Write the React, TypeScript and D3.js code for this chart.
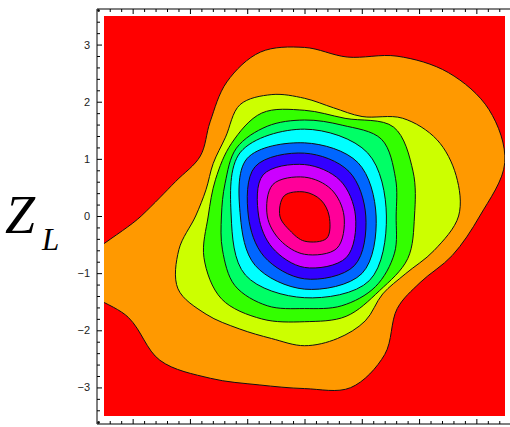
import React, { useRef, useEffect } from "react";
import * as d3 from "d3";

// Hue bands, outermost (lowest) to the core
const bandColors = [
  "#ff0000", "#ff9900", "#ccff00", "#33ff00", "#00ff66", "#00ffff",
  "#0066ff", "#3300ff", "#cc00ff", "#ff0099", "#ff0000",
];

// contour radii, angles evenly spaced from +x, counter-clockwise
const contour1 = [3.06, 3.62, 3.72, 3.55, 3.23, 2.88, 2.95, 2.97, 2.71, 2.33, 2.1, 2.33, 2.85, 4.2, 3.55, 3.57, 3.28, 3.06, 3.02, 3.11, 2.8, 2.29, 2.33, 2.67];
const contour2 = [2.69, 2.74, 2.67, 2.42, 2.01, 1.96, 2.06, 2.2, 2.25, 1.95, 1.84, 1.78, 1.9, 2.27, 2.55, 2.43, 2.28, 2.22, 2.27, 2.22, 2.12, 1.93, 2.03, 2.34];
const contour3 = [1.92, 2.05, 2.2, 1.85, 1.85, 1.95, 1.8, 1.68, 1.68, 1.9, 2.05, 1.95, 1.85, 1.9, 1.85, 1.95];
const contour4 = [1.6, 1.72, 1.9, 1.72, 1.68, 1.7, 1.68, 1.5, 1.45, 1.55, 1.72, 1.7, 1.62, 1.7, 1.75, 1.7];
const contour5 = [1.43, 1.56, 1.52, 1.58, 1.28, 1.46, 1.43, 1.6];
const contour6 = [1.25, 1.32, 1.28, 1.42, 1.12, 1.22, 1.28, 1.42];
const contour7 = [1.07, 1.1, 1.1, 1.22, 0.98, 1.0, 1.1, 1.23];
const contour8 = [0.89, 0.88, 0.9, 1.02, 0.8, 0.79, 0.9, 1.03];
const contour9 = [0.69, 0.66, 0.68, 0.78, 0.65, 0.6, 0.67, 0.8];
const contour10 = [0.43, 0.4, 0.42, 0.5, 0.43, 0.36, 0.44, 0.55];
const contours = [contour1, contour2, contour3, contour4, contour5, contour6, contour7, contour8, contour9, contour10];
const center = [0, 0];

const majorTicks = [-3, -2, -1, 0, 1, 2, 3];
const minorTicks = d3.range(-18, 19).map((i) => i / 5).filter((v) => !Number.isInteger(v));

export default function App() {
  const svgRef = useRef<SVGSVGElement>(null);

  useEffect(() => {
    if (!svgRef.current) return;
    const width = 510;
    const height = 427;
    const plot = { left: 104, right: 505, top: 16, bottom: 416 };
    const frame = { left: 97, top: 9, bottom: 424 };

    d3.select(svgRef.current).selectAll("*").remove();
    const svg = d3.select(svgRef.current).attr("width", width).attr("height", height);

    const x = d3.scaleLinear().domain([-3.5, 3.5]).range([plot.left, plot.right]);
    const y = d3.scaleLinear().domain([-3.5, 3.5]).range([plot.bottom, plot.top]);

    svg.append("rect").attr("width", width).attr("height", height).attr("fill", "#fff");

    svg.append("clipPath").attr("id", "plot-clip")
      .append("rect")
      .attr("x", plot.left).attr("y", plot.top)
      .attr("width", plot.right - plot.left).attr("height", plot.bottom - plot.top);

    const chart = svg.append("g").attr("clip-path", "url(#plot-clip)");
    chart.append("rect")
      .attr("x", plot.left).attr("y", plot.top)
      .attr("width", plot.right - plot.left).attr("height", plot.bottom - plot.top)
      .attr("fill", bandColors[0]);

    const line = d3.line<[number, number]>().curve(d3.curveCatmullRomClosed.alpha(0.5));
    contours.forEach((radii, i) => {
      const pts: [number, number][] = radii.map((r, k) => {
        const a = (k * 2 * Math.PI) / radii.length;
        return [x(center[0] + r * Math.cos(a)), y(center[1] + r * Math.sin(a))];
      });
      chart.append("path")
        .attr("d", line(pts))
        .attr("fill", bandColors[i + 1])
        .attr("stroke", "#111")
        .attr("stroke-width", 1);
    });

    // frame lines
    const axes = svg.append("g").attr("stroke", "#000").attr("stroke-width", 1);
    axes.append("line").attr("x1", frame.left).attr("x2", frame.left).attr("y1", frame.top).attr("y2", frame.bottom);
    axes.append("line").attr("x1", frame.left).attr("x2", width).attr("y1", frame.top).attr("y2", frame.top);
    axes.append("line").attr("x1", frame.left).attr("x2", width).attr("y1", frame.bottom).attr("y2", frame.bottom);

    const styleAxis = (g: d3.Selection<SVGGElement, unknown, null, undefined>) => {
      g.select(".domain").remove();
      g.selectAll("text")
        .attr("font-family", "'Liberation Sans', Arial, sans-serif")
        .attr("font-size", 11)
        .attr("fill", "#222");
    };

    svg.append("g").attr("transform", `translate(${frame.left},0)`)
      .call(d3.axisLeft(y).tickValues(minorTicks).tickSizeInner(-3).tickSizeOuter(0).tickFormat(() => ""))
      .call(styleAxis);
    svg.append("g").attr("transform", `translate(${frame.left},0)`)
      .call(d3.axisLeft(y).tickValues(majorTicks).tickSizeInner(-5).tickSizeOuter(0).tickPadding(7).tickFormat(d3.format("d")))
      .call(styleAxis);

    [frame.top, frame.bottom].forEach((yy, j) => {
      const mk = j === 0 ? d3.axisTop : d3.axisBottom;
      svg.append("g").attr("transform", `translate(0,${yy})`)
        .call(mk(x).tickValues(minorTicks).tickSizeInner(-3).tickSizeOuter(0).tickFormat(() => ""))
        .call(styleAxis);
      svg.append("g").attr("transform", `translate(0,${yy})`)
        .call(mk(x).tickValues(majorTicks).tickSizeInner(-5).tickSizeOuter(0).tickFormat(() => ""))
        .call(styleAxis);
    });

    // Z_L label
    const lab = svg.append("g").attr("font-family", "'Liberation Serif', 'Times New Roman', serif").attr("font-style", "italic").attr("fill", "#000");
    lab.append("text").attr("x", 5).attr("y", 233).attr("font-size", 54).text("Z");
    lab.append("text").attr("x", 42).attr("y", 250).attr("font-size", 31).text("L");
  }, []);

  return <svg ref={svgRef} style={{ position: "absolute", left: 0, top: 0 }}></svg>;
}
